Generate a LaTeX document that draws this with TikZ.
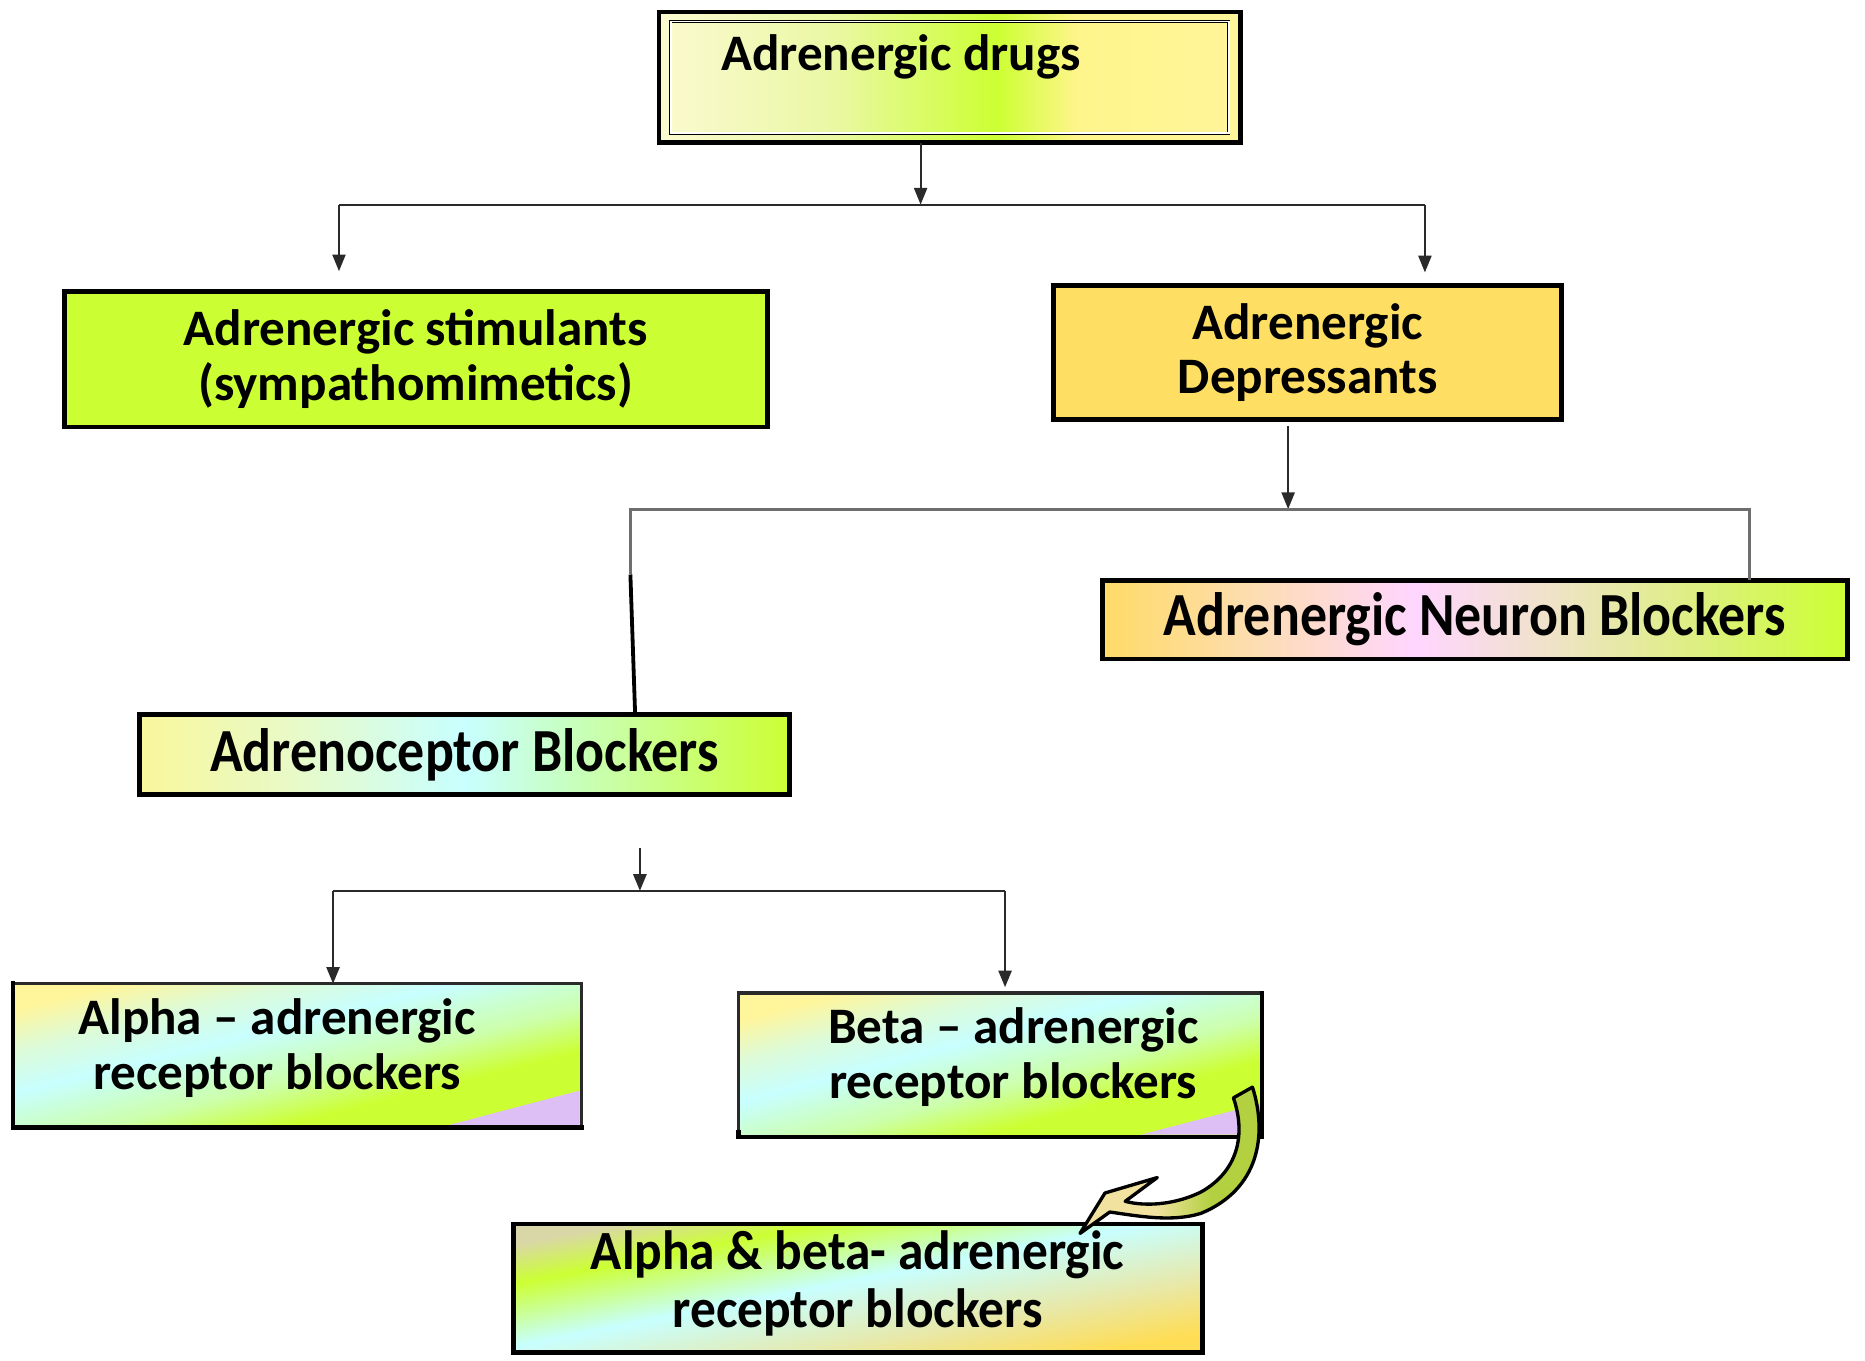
\documentclass[tikz,border=0pt]{standalone}
\usepackage{fontspec}
\setmainfont{Carlito}
\newfontfamily\condfont[FakeStretch=0.88]{Carlito}
\newfontfamily\semicondfont[FakeStretch=0.93]{Carlito}
\usetikzlibrary{arrows.meta,calc}
\definecolor{limeg}{HTML}{CCFF33}
\definecolor{goldb}{HTML}{FEDF63}
\definecolor{lavc}{HTML}{DDBEF5}
\definecolor{linec}{HTML}{2A2A2A}
\definecolor{grayl}{HTML}{6E6E6E}
\definecolor{dA}{HTML}{FBFAD0}
\definecolor{dB}{HTML}{EAF8A4}
\definecolor{dC}{HTML}{CCFF33}
\definecolor{dD}{HTML}{FFF58C}
\definecolor{dE}{HTML}{FFF59A}
\definecolor{nA}{HTML}{FFDB66}
\definecolor{nB}{HTML}{FDDDB0}
\definecolor{nC}{HTML}{FFD6FF}
\definecolor{nD}{HTML}{EFE3C8}
\definecolor{nE}{HTML}{DDEF80}
\definecolor{cA}{HTML}{F9F79C}
\definecolor{cB}{HTML}{E8FAC8}
\definecolor{cC}{HTML}{C8FFFF}
\definecolor{cD}{HTML}{C8FFC0}
\definecolor{aA}{HTML}{FFF59A}
\definecolor{aB}{HTML}{DDFBD8}
\definecolor{aC}{HTML}{C8FFFF}
\definecolor{aD}{HTML}{CCFFAA}
\definecolor{bA}{HTML}{D9D7A8}
\definecolor{bB}{HTML}{CCFF33}
\definecolor{bC}{HTML}{C8FFFF}
\definecolor{bD}{HTML}{E8E8A8}
\definecolor{bE}{HTML}{FFDD55}
\definecolor{arA}{HTML}{F2E2A0}
\definecolor{arB}{HTML}{B2D040}
\definecolor{arC}{HTML}{9DBFA8}
\pgfdeclarehorizontalshading{drugsH}{100bp}{color(0bp)=(dA); color(25bp)=(dA); color(40bp)=(dB); color(54bp)=(dC); color(61bp)=(dD); color(75bp)=(dE); color(100bp)=(dE)}
\pgfdeclarehorizontalshading{neuronH}{100bp}{color(0bp)=(nA); color(25bp)=(nA); color(35bp)=(nB); color(46bp)=(nC); color(55bp)=(nD); color(65bp)=(nE); color(75bp)=(limeg); color(100bp)=(limeg)}
\pgfdeclarehorizontalshading{ceptorH}{100bp}{color(0bp)=(cA); color(25bp)=(cA); color(37bp)=(cB); color(50bp)=(cC); color(58bp)=(cD); color(75bp)=(limeg); color(100bp)=(limeg)}
\pgfdeclarehorizontalshading{alphaD}{100bp}{color(0bp)=(aA); color(25bp)=(aA); color(34bp)=(aB); color(43bp)=(aC); color(55bp)=(aD); color(64bp)=(limeg); color(75bp)=(limeg); color(100bp)=(limeg)}
\pgfdeclarehorizontalshading{abD}{100bp}{color(0bp)=(bA); color(25bp)=(bA); color(34bp)=(bB); color(48bp)=(bC); color(63bp)=(bD); color(75bp)=(bE); color(100bp)=(bE)}
\pgfdeclarehorizontalshading{arrH}{100bp}{color(0bp)=(arA); color(25bp)=(arA); color(45bp)=(arA); color(60bp)=(arB); color(72bp)=(arB); color(75bp)=(arC); color(100bp)=(arC)}
\tikzset{
  bord/.style={draw=black, line width=4pt, outer sep=0pt, inner sep=0pt, line join=miter},
  plainbox/.style={outer sep=0pt, inner sep=0pt},
  txtA/.style={font=\fontsize{43}{46}\selectfont\bfseries, align=center, inner sep=0pt},
  txtB/.style={font=\fontsize{51.5}{45}\selectfont\condfont\bfseries, align=center, inner sep=0pt},
  conn/.style={draw=linec, line width=1.6pt},
  conng/.style={draw=grayl, line width=2.4pt},
  arr/.style={conn, -{Triangle[length=14pt,width=11pt]}},
}
\begin{document}
\begin{tikzpicture}[x=1pt,y=-1pt]
\useasboundingbox[fill=white] (0,0) rectangle (1568,1144);

% top box
\node[bord, minimum width=489pt, minimum height=110pt, shading=drugsH] (drugs) at (798.5,65) {};
\draw[draw=black, line width=0.5pt, double=none, double distance=1.4pt] ($(drugs.north west)+(10,8)$) rectangle ($(drugs.south east)+(-10,-8)$);
\node[txtA, anchor=west] (tdrugs) at (606,48) {Adrenergic drugs};

% second level
\node[bord, fill=limeg, minimum width=591pt, minimum height=114pt, txtA] (stim) at (349.5,302) {Adrenergic stimulants\\(sympathomimetics)};
\node[bord, fill=goldb, minimum width=427pt, minimum height=113pt, txtA] (dep) at (1099.5,296.5) {Adrenergic\\Depressants};

% third level
\node[bord, shading=neuronH, minimum width=626pt, minimum height=66pt, txtB] (neuron) at (1240,521) {Adrenergic Neuron Blockers};
\node[bord, shading=ceptorH, minimum width=547pt, minimum height=67pt, txtB] (ceptor) at (390.5,634.5) {Adrenoceptor Blockers};

% alpha box
\node[plainbox, minimum width=478pt, minimum height=121pt, shading=alphaD, shading angle=-76] (alpha) at (250,887.5) {};
\fill[lavc] ($(alpha.south east)+(-112,-2)$) -- ($(alpha.south east)+(-2,-31)$) -- ($(alpha.south east)+(-2,-2)$) -- cycle;
\draw[draw=linec, line width=3pt] (alpha.south east) -- (alpha.north east) -- (alpha.north west);
\draw[draw=black, line width=4pt, line cap=rect] (alpha.north west) -- (alpha.south west) -- (alpha.south east);
\node[txtA] (talpha) at (233,881) {Alpha -- adrenergic\\receptor blockers};

% beta box
\node[plainbox, minimum width=440pt, minimum height=121pt, shading=alphaD, shading angle=-75] (beta) at (841,895.5) {};
\fill[lavc] ($(beta.south east)+(-102,-2)$) -- ($(beta.south east)+(-2,-28)$) -- ($(beta.south east)+(-2,-2)$) -- cycle;
\draw[draw=linec, line width=3pt] (beta.south west) -- (beta.north west) -- (beta.north east);
\draw[draw=black, line width=4pt, line cap=rect] (beta.north east) -- (beta.south east) -- (beta.south west);
\draw[draw=black, line width=4pt] ($(beta.south west)+(0,-6)$) -- ($(beta.south west)+(0,2)$);
\node[txtA] (tbeta) at (852,889) {Beta -- adrenergic\\receptor blockers};

% alpha & beta box
\node[bord, shading=abD, shading angle=-79, minimum width=579pt, minimum height=108pt] (ab) at (721.5,1083) {};
\node[align=center, inner sep=0pt, font=\fontsize{46.5}{48}\selectfont\semicondfont\bfseries] (tab) at (721,1079) {Alpha \& beta- adrenergic\\receptor blockers};

% connectors level 1
\coordinate (b1) at (774,172);
\coordinate (b1L) at (285,172);
\coordinate (b1R) at (1198,172);
\draw[arr] (drugs.south -| b1) -- (b1);
\draw[conn] (b1L) -- (b1R);
\draw[arr] (b1L) -- ($(b1L |- stim.north)+(0,-17)$);
\draw[arr] (b1R) -- ($(b1R |- dep.north)+(0,-11)$);

% connectors level 2
\coordinate (b2) at (1083,428);
\coordinate (b2L) at (530,428);
\coordinate (b2R) at (1471,428);
\draw[arr] ($(dep.south -| b2)+(0,5)$) -- (b2);
\draw[conng, line cap=rect] (b2L) -- (b2R);
\draw[conng] (b2R) -- (b2R |- neuron.north);
\draw[conng] (b2L) -- ++(0,55) coordinate (kink);
\draw[draw=black, line width=3.2pt] (kink) -- ($(ceptor.north -| kink)+(4,0)$);

% connectors level 3
\coordinate (b3) at (538,749);
\coordinate (b3L) at (280,749);
\coordinate (b3R) at (845,749);
\draw[arr, line width=2pt] ($(ceptor.south -| b3)+(0,45)$) -- (b3);
\draw[conn, line width=2pt] (b3L) -- (b3R);
\draw[arr, line width=2pt] (b3L) -- (b3L |- alpha.north);
\draw[arr, line width=2pt] (b3R) -- ($(b3R |- beta.north)+(0,-5)$);

% curved block arrow from beta to alpha&beta
\coordinate (cvt) at (908,1037);
\filldraw[draw=black, line width=2.8pt, line join=round, shading=arrH, shading angle=0]
  (1037,923) -- (1053,914)
  .. controls (1066,955) and (1058,1000) .. (1010,1020)
  .. controls (985,1028) and (955,1022) .. (933,1019)
  -- (cvt) -- (929,1003) -- (973,990) -- (946,1010)
  .. controls (965,1015) and (990,1012) .. (1010,1002)
  .. controls (1040,985) and (1048,955) .. (1037,923) -- cycle;
\end{tikzpicture}
\end{document}
